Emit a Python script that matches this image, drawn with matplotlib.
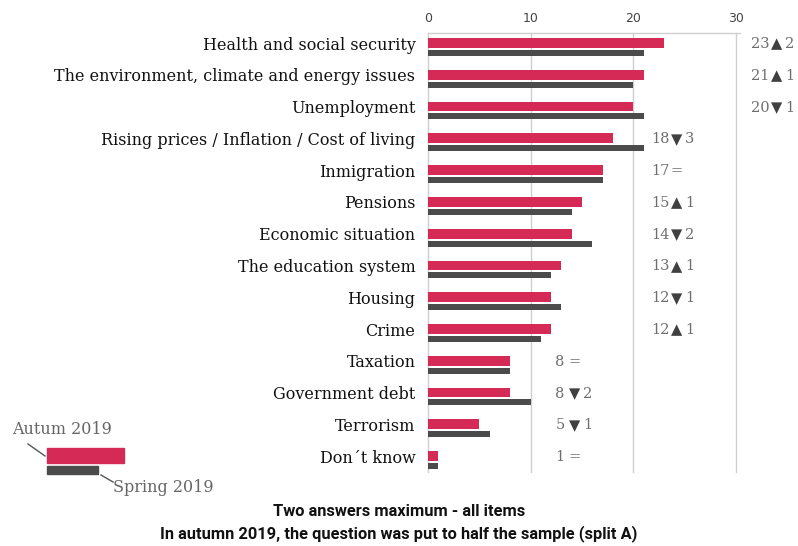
import matplotlib
matplotlib.use("Agg")
import matplotlib.pyplot as plt
from matplotlib.patches import Rectangle
from matplotlib.lines import Line2D
import matplotlib.transforms as mtransforms
import numpy as np

categories = [
    "Health and social security",
    "The environment, climate and energy issues",
    "Unemployment",
    "Rising prices / Inflation / Cost of living",
    "Inmigration",
    "Pensions",
    "Economic situation",
    "The education system",
    "Housing",
    "Crime",
    "Taxation",
    "Government debt",
    "Terrorism",
    "Don\u00b4t know",
]
autumn_2019 = [23, 21, 20, 18, 17, 15, 14, 13, 12, 12, 8, 8, 5, 1]
spring_2019 = [21, 20, 21, 21, 17, 14, 16, 12, 13, 11, 8, 10, 6, 1]
x_ticks = [0, 10, 20, 30]
series_names = ["Autum 2019", "Spring 2019"]

RED = "#D42A55"
GRAY = "#4B4B4B"
GRID = "#CFCFCF"
SERIF = ["DejaVu Serif", "DejaVu Sans"]

W, H = 798, 546
fig = plt.figure(figsize=(W / 100, H / 100), dpi=100)

def fx(px):
    return px / W

def fy(py):
    return 1 - py / H

ax_left, ax_right, ax_top, ax_bottom = 428, 736, 33, 472
ax = fig.add_axes([fx(ax_left), fy(ax_bottom), (ax_right - ax_left) / W, (ax_bottom - ax_top) / H])

n = len(categories)
y = np.arange(n)
ax.barh(y, autumn_2019, height=0.31, color=RED, zorder=3)
ax.barh(y + 0.31, spring_2019, height=0.19, color=GRAY, zorder=3)

ax.set_xlim(0, 30)
ax.set_ylim(13.5, -0.315)
for s in ax.spines.values():
    s.set_visible(False)
for t in x_ticks:
    ax.axvline(t, color=GRID, lw=1.0, zorder=1, clip_on=False)
ax.plot([0, 30.4], [-0.315, -0.315], color=GRID, lw=1.0, clip_on=False, zorder=1)
ax.xaxis.tick_top()
ax.set_xticks(x_ticks)
ax.set_xticklabels([str(t) for t in x_ticks], fontsize=9, color="#444444")
ax.tick_params(axis="x", length=0, pad=6)
ax.set_yticks(y)
ax.set_yticklabels(categories, fontsize=11.5, family=SERIF, color="#111111")
ax.tick_params(axis="y", length=0, pad=9)

PX = 72 / 100  # points per pixel
# change annotations
for i, (a, s) in enumerate(zip(autumn_2019, spring_2019)):
    if i < 3:
        xpos = 31.5
    elif a >= 10:
        xpos = 21.7
    else:
        xpos = 12.4
    diff = a - s
    yy = i + 0.03
    ax.text(xpos, yy, str(a), fontsize=10.5, family=SERIF, color="#6E6E6E",
            va="center", ha="left", clip_on=False)
    tri_off = (7 + 6.5 * len(str(a))) * PX
    if diff == 0:
        tr = mtransforms.offset_copy(ax.transData, fig=fig, x=tri_off, y=0, units="points")
        ax.text(xpos, yy, "=", transform=tr, fontsize=10.5, family=SERIF, color="#6E6E6E",
                va="center", ha="left", clip_on=False)
    else:
        sym = "\u25B2" if diff > 0 else "\u25BC"
        tr = mtransforms.offset_copy(ax.transData, fig=fig, x=tri_off, y=0, units="points")
        ax.text(xpos, yy, sym, transform=tr, fontsize=10.5, family=["DejaVu Sans"],
                color="#404040", va="center", ha="left", clip_on=False)
        tr2 = mtransforms.offset_copy(ax.transData, fig=fig, x=tri_off + 14 * PX, y=0, units="points")
        ax.text(xpos, yy, str(abs(diff)), transform=tr2, fontsize=10.5, family=SERIF,
                color="#6E6E6E", va="center", ha="left", clip_on=False)

# legend drawn manually
fig.patches.append(Rectangle((fx(47), fy(463)), (124 - 47) / W, 15 / H, color=RED,
                             transform=fig.transFigure, figure=fig))
fig.patches.append(Rectangle((fx(47), fy(474)), (98 - 47) / W, 8 / H, color=GRAY,
                             transform=fig.transFigure, figure=fig))
fig.lines.append(Line2D([fx(28), fx(45)], [fy(444), fy(456)], color="#555555", lw=1,
                        transform=fig.transFigure, figure=fig))
fig.lines.append(Line2D([fx(101), fx(113)], [fy(475), fy(482)], color="#555555", lw=1,
                        transform=fig.transFigure, figure=fig))
fig.text(fx(12), fy(429), series_names[0], fontsize=11.5, family=SERIF, color="#666666",
         va="center", ha="left")
fig.text(fx(113), fy(488), series_names[1], fontsize=11.5, family=SERIF, color="#666666",
         va="center", ha="left")

fig.text(0.5, fy(512), "Two answers maximum - all items", fontsize=11.8, weight="bold",
         family="Roboto", color="#111111", ha="center", va="center")
fig.text(0.5, fy(534), "In autumn 2019, the question was put to half the sample (split A)",
         fontsize=11.8, weight="bold", family="Roboto", color="#111111", ha="center", va="center")

fig.savefig("out.png", dpi=100, facecolor="white")
